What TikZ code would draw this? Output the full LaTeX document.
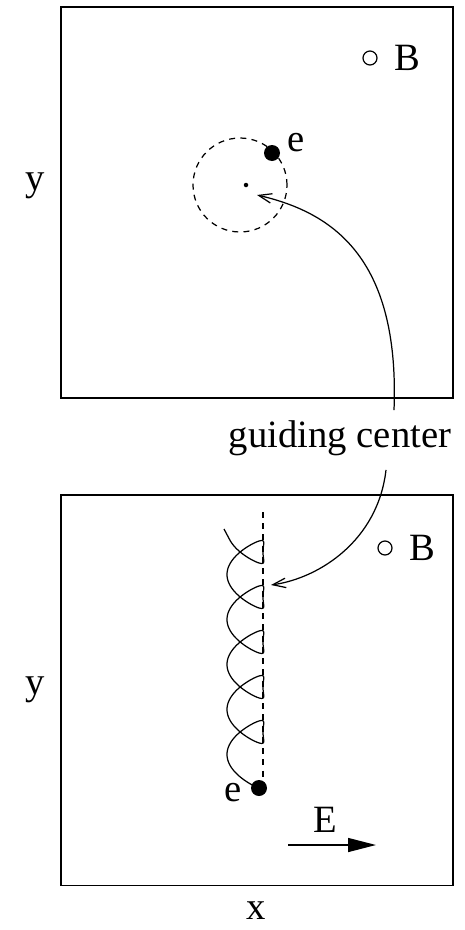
\documentclass[tikz,border=0pt]{standalone}
\usepackage{fontspec}
\setmainfont{Liberation Serif}
\usetikzlibrary{positioning,arrows.meta,calc}
\tikzset{
  frame/.style={draw, line width=1.1pt, minimum width=7.84cm, minimum height=7.82cm, inner sep=0pt},
  lab/.style={font=\fontsize{22}{26}\selectfont, inner sep=0pt},
  flow/.style={-{Straight Barb[length=2.6mm, width=1.9mm]}, line width=0.7pt},
  guide/.style={dash pattern=on 3.4pt off 3pt, line width=0.7pt},
}
\begin{document}
\begin{tikzpicture}[x=0.02cm, y=-0.02cm,
  elec/.style={circle, fill=black, inner sep=0pt, minimum size=0.32cm},
  bdot/.style={circle, draw, line width=0.7pt, inner sep=0pt, minimum size=0.28cm},
  gdot/.style={circle, fill=black, inner sep=0pt, minimum size=0.09cm},
  efield/.style={-{Triangle[length=5.6mm, width=2.8mm]}, line width=0.8pt},
]
  \useasboundingbox (0,0) rectangle (465,930);

  \node[frame] (top) at (257,202.5) {};
  \node[frame] (bot) at (257,690) {};
  \node[lab] (ytop) at (35,186) {y};
  \node[lab] (ybot) at (35,690) {y};
  \node[lab] (xlab) at (256,911) {x};

  \node[bdot] (btop) at (370,58) {};
  \node[lab, right=0.34cm of btop] (btoplab) {B};
  \node[draw, guide, circle, inner sep=0pt, minimum size=1.88cm] (orbit) at (240,185) {};
  \node[gdot] (gcdot) at (246,185) {};
  \node[elec] (etop) at (272,153) {};
  \node[lab] (etoplab) at (296,143) {e};

  \node[lab] (gc) at (340,438) {guiding center};
  \coordinate (gctip) at (257,195);
  \coordinate (linetip) at (271,585);

  \node[bdot] (bbot) at (385,548) {};
  \node[lab, right=0.34cm of bbot] (bbotlab) {B};
  \coordinate (linetop) at (263,512);
  \coordinate (tail) at (224,529);
  \node[elec] (ebot) at (259,788) {};
  \node[lab] (eboblab) at (233,793) {e};
  \draw[guide] (linetop) -- (linetop |- ebot.center);
  \draw[line width=0.7pt] (tail) -- plot[domain=-2.75:30.016, samples=600, smooth, variable=\t]
    ({245+18*cos(\t r)+6*(1-cos(2*\t r))}, {552+7.16*\t-21.5*sin(\t r)});

  \coordinate (ea) at (288,845);
  \coordinate (eb) at (376,845);
  \draw[efield] (ea) -- (eb);
  \node[lab] (elab) at (325,820) {E};

  \draw[flow] ($(gc.north)+(54,-10)$) .. controls (400,255) and (330,212) .. (gctip);
  \draw[flow] ($(gc.south)+(46,14)$) .. controls (378,540) and (320,578) .. (linetip);
\end{tikzpicture}
\end{document}
